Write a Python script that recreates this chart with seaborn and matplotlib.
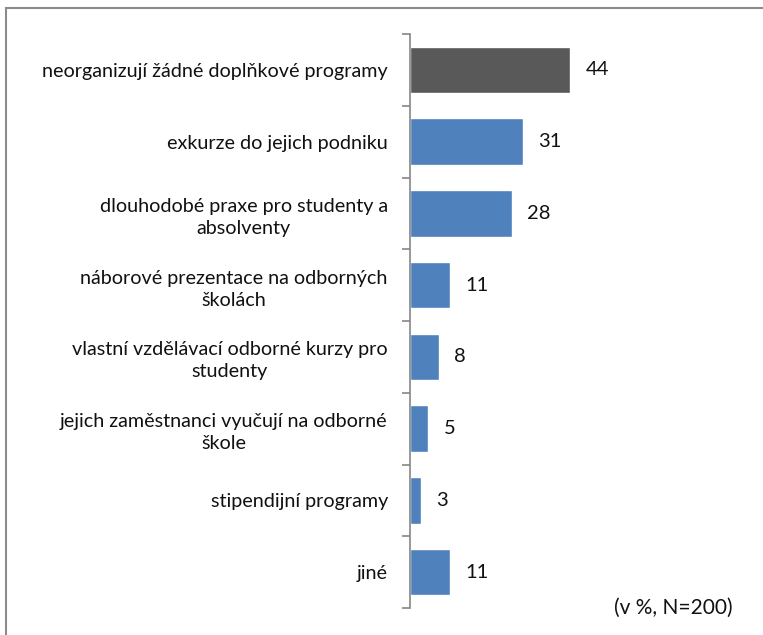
import matplotlib.pyplot as plt
import matplotlib.patches as mpatches
import seaborn as sns

categories = [
    "neorganizují žádné doplňkové programy",
    "exkurze do jejich podniku",
    "dlouhodobé praxe pro studenty a\nabsolventy",
    "náborové prezentace na odborných\nškolách",
    "vlastní vzdělávací odborné kurzy pro\nstudenty",
    "jejich zaměstnanci vyučují na odborné\nškole",
    "stipendijní programy",
    "jiné",
]
values = [44, 31, 28, 11, 8, 5, 3, 11]
bar_colors = ["#595959"] + ["#4F81BD"] * 7

sns.set_style("white")
plt.rcParams["font.family"] = ["Lato", "DejaVu Sans"]

W, H = 763, 635
fig = plt.figure(figsize=(W / 100, H / 100), dpi=100)
fig.patch.set_facecolor("white")

x0, x1 = 410, 740
y_top, y_bot = 34, 608
ax = fig.add_axes([x0 / W, 1 - y_bot / H, (x1 - x0) / W, (y_bot - y_top) / H])

sns.barplot(x=values, y=categories, hue=categories, palette=bar_colors,
            legend=False, orient="h", width=0.65, ax=ax, saturation=1)

scale = 44 / (570 - x0)
ax.set_xlim(0, (x1 - x0) * scale)
ax.set_ylim(len(categories) - 0.5, -0.5)

for i, v in enumerate(values):
    ax.text(v + 4.2, i, str(v), va="center", ha="left", fontsize=14.5, color="#111111")

ax.set_xticks([])
ax.set_yticks(range(len(categories)))
ax.set_yticklabels(categories, fontsize=14.2, color="#111111", linespacing=1.35)
ax.set_yticks([i - 0.5 for i in range(len(categories) + 1)], minor=True)
ax.tick_params(axis="y", which="major", left=False, length=0, pad=16)
ax.tick_params(axis="y", which="minor", left=True, length=5.5, width=1.2,
               color="#868686", direction="out")
for lbl in ax.get_yticklabels():
    lbl.set_multialignment("center")
ax.set_xlabel("")
ax.set_ylabel("")

for s in ["top", "right", "bottom"]:
    ax.spines[s].set_visible(False)
ax.spines["left"].set_color("#868686")
ax.spines["left"].set_linewidth(1.2)

fig.text(733 / W, 1 - 608 / H, "(v %, N=200)", ha="right", va="center",
         fontsize=15, color="#111111")

border = mpatches.Rectangle((6 / W, -0.05), 1.1, 1 - 8 / H + 0.05,
                            transform=fig.transFigure, fill=False,
                            edgecolor="#8c8c8c", linewidth=1.5, clip_on=False)
fig.patches.append(border)

fig.savefig("out.png", dpi=100)
